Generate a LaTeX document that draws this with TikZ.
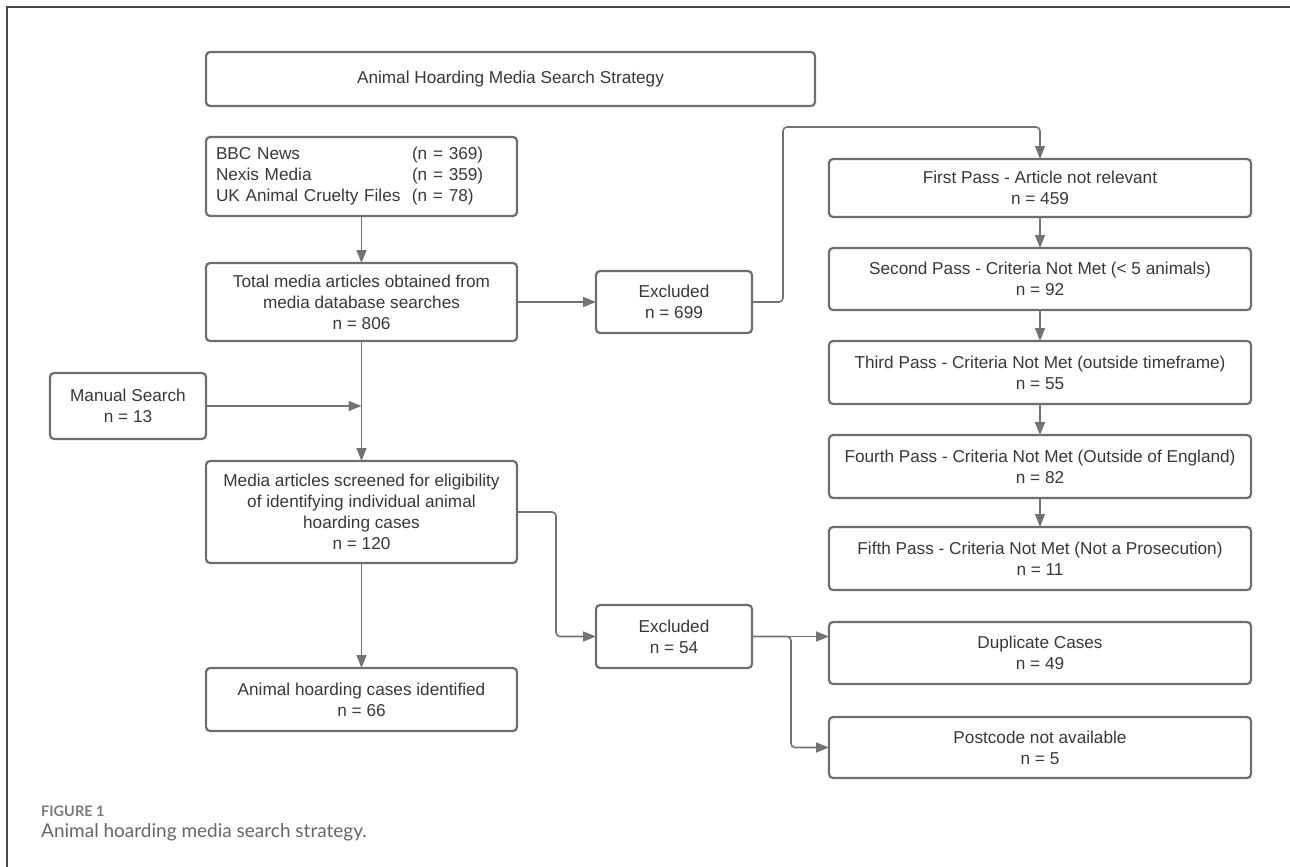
\documentclass[tikz,border=0pt]{standalone}
\usepackage{fontspec}
\setmainfont{Liberation Sans}
\newfontfamily\capfont{Lato}
\usepackage{tikz}
\usetikzlibrary{arrows.meta,calc}
\usetikzlibrary{positioning}
\colorlet{boxGray}{black!57}
\colorlet{lineGray}{black!55}
\colorlet{textGray}{black!78}
\colorlet{frameGray}{black!72}
\tikzstyle{stagebox} = [draw=boxGray,line width=2.2pt,rounded corners=4pt,outer sep=0pt,inner sep=4pt,align=center,text=textGray,font=\fontsize{17.2}{21}\selectfont]
\tikzstyle{passbox} = [stagebox,minimum width=422pt]
\tikzstyle{flowarrow} = [draw=lineGray,line width=1.6pt,rounded corners=4pt,-{Triangle[length=13pt,width=10pt]}]

\begin{document}
\begin{tikzpicture}[node distance=0.5mm]
\useasboundingbox (0,0) rectangle (1290pt,-867pt);
\draw [frameGray,line width=2pt] (7pt,-867pt) -- (7pt,-7pt) -- (1290pt,-7pt);
%
\node (title) [stagebox,minimum width=609pt,minimum height=54pt] at (510.5pt,-79pt) {Animal Hoarding Media Search Strategy};
\node (sources) [stagebox,minimum width=311pt,minimum height=79pt,text width=291pt,align=left,below right=31pt and 0pt of title.south west] {\makebox[196pt][l]{BBC News}(n = 369)\\\makebox[196pt][l]{Nexis Media}(n = 359)\\\makebox[196pt][l]{UK Animal Cruelty Files}(n = 78)};
\node (total) [stagebox,minimum width=311pt,minimum height=78pt,below=47pt of sources] {Total media articles obtained from\\media database searches\\n = 806};
\node (manual) [stagebox,minimum width=156pt,minimum height=66pt,below left=32pt and 0pt of total.south west] {Manual Search\\n = 13};
\node (screened) [stagebox,minimum width=311pt,minimum height=102pt,below=120pt of total] {Media articles screened for eligibility\\of identifying individual animal\\hoarding cases\\n = 120};
\node (cases) [stagebox,minimum width=311pt,minimum height=63pt,below=105pt of screened] {Animal hoarding cases identified\\n = 66};
\node (excl1) [stagebox,minimum width=156pt,minimum height=62pt,right=79pt of total] {Excluded\\n = 699};
\node (excl2) [stagebox,minimum width=156pt,minimum height=63pt,below right=42pt and 79pt of screened.south east] {Excluded\\n = 54};
%
\node (pass1) [passbox,minimum height=58pt,above right=54pt and 77pt of excl1.north east] {First Pass - Article not relevant\\n = 459};
\node (pass2) [passbox,minimum height=62pt,below=31pt of pass1] {Second Pass - Criteria Not Met (< 5 animals)\\n = 92};
\node (pass3) [passbox,minimum height=63pt,below=31pt of pass2] {Third Pass - Criteria Not Met (outside timeframe)\\n = 55};
\node (pass4) [passbox,minimum height=63pt,below=31pt of pass3] {Fourth Pass - Criteria Not Met (Outside of England)\\n = 82};
\node (pass5) [passbox,minimum height=63pt,below=29pt of pass4] {Fifth Pass - Criteria Not Met (Not a Prosecution)\\n = 11};
\node (dup) [passbox,minimum height=62pt,below=32pt of pass5] {Duplicate Cases\\n = 49};
\node (postcode) [passbox,minimum height=61pt,below=33pt of dup] {Postcode not available\\n = 5};
%
\node (figlabel) [anchor=base west,inner sep=0pt,text=black!52,font=\capfont\fontsize{14.5}{17}\selectfont\bfseries] at (41pt,-816pt) {FIGURE 1};
\node (figcaption) [anchor=base west,inner sep=0pt,text=black!60,font=\capfont\fontsize{19}{22}\selectfont] at (41pt,-837pt) {Animal hoarding media search strategy.};
%
\draw [flowarrow] (sources) -- (total);
\draw [flowarrow] (total) -- (screened);
\draw [flowarrow] (manual.east) -- (manual.east -| total.south);
\draw [flowarrow] (screened) -- (cases);
\draw [flowarrow] (total) -- (excl1);
\draw [flowarrow] (excl1.east) -- ++(31pt,0) |- ($(pass1.north)+(0,32pt)$) -- (pass1.north);
\draw [flowarrow] (pass1) -- (pass2);
\draw [flowarrow] (pass2) -- (pass3);
\draw [flowarrow] (pass3) -- (pass4);
\draw [flowarrow] (pass4) -- (pass5);
\draw [flowarrow] (screened.east) -- ++(39pt,0) |- (excl2.west);
\draw [flowarrow] (excl2.east) -- (excl2.east -| dup.west);
\draw [flowarrow] (excl2.east) -- ++(39pt,0) |- (postcode.west);
\end{tikzpicture}
\end{document}
